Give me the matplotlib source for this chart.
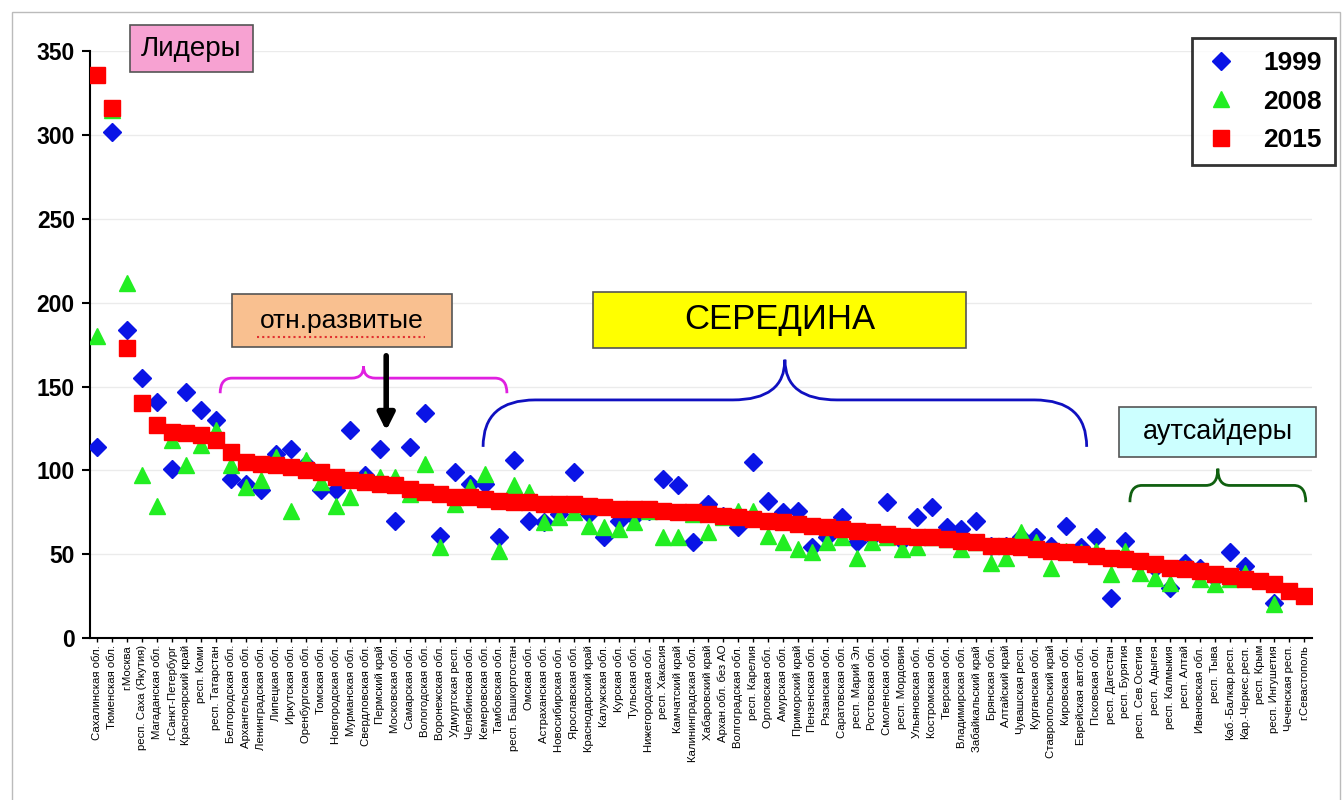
import numpy as np
import matplotlib
matplotlib.use('Agg')
import matplotlib.pyplot as plt
from matplotlib.path import Path
import matplotlib.patches as patches

plt.rcParams['font.family'] = ['Liberation Sans', 'DejaVu Sans']

regions = ['Сахалинская обл.', 'Тюменская обл.', 'г.Москва', 'респ. Саха (Якутия)', 'Магаданская обл.',
           'г.Санкт-Петербург', 'Красноярский край', 'респ. Коми', 'респ. Татарстан', 'Белгородская обл.',
           'Архангельская обл.', 'Ленинградская обл.', 'Липецкая обл.', 'Иркутская обл.', 'Оренбургская обл.',
           'Томская обл.', 'Новгородская обл.', 'Мурманская обл.', 'Свердловская обл.', 'Пермский край',
           'Московская обл.', 'Самарская обл.', 'Вологодская обл.', 'Воронежская обл.', 'Удмуртская респ.',
           'Челябинская обл.', 'Кемеровская обл.', 'Тамбовская обл.', 'респ. Башкортостан', 'Омская обл.',
           'Астраханская обл.', 'Новосибирская обл.', 'Ярославская обл.', 'Краснодарский край', 'Калужская обл.',
           'Курская обл.', 'Тульская обл.', 'Нижегородская обл.', 'респ. Хакасия', 'Камчатский край',
           'Калининградская обл.', 'Хабаровский край', 'Архан.обл. без АО', 'Волгоградская обл.', 'респ. Карелия',
           'Орловская обл.', 'Амурская обл.', 'Приморский край', 'Пензенская обл.', 'Рязанская обл.',
           'Саратовская обл.', 'респ. Марий Эл', 'Ростовская обл.', 'Смоленская обл.', 'респ. Мордовия',
           'Ульяновская обл.', 'Костромская обл.', 'Тверская обл.', 'Владимирская обл.', 'Забайкальский край',
           'Брянская обл.', 'Алтайский край', 'Чувашская респ.', 'Курганская обл.', 'Ставропольский край',
           'Кировская обл.', 'Еврейская авт.обл.', 'Псковская обл.', 'респ. Дагестан', 'респ. Бурятия',
           'респ. Сев.Осетия', 'респ. Адыгея', 'респ. Калмыкия', 'респ. Алтай', 'Ивановская обл.',
           'респ. Тыва', 'Каб.-Балкар.респ.', 'Кар.-Черкес.респ.', 'респ. Крым', 'респ. Ингушетия',
           'Чеченская респ.', 'г.Севастополь']

nan = np.nan
v1999 = [114, 302, 184, 155, 141, 101, 147, 136, 130, 95,
         92, 88, 110, 113, 104, 88, 88, 124, 97, 113,
         70, 114, 134, 61, 99, 92, 92, 60, 106, 70,
         69, 74, 99, 74, 60, 70, 72, 76, 95, 91,
         57, 80, 73, 66, 105, 82, 75, 76, 54, 60,
         72, 57, 60, 81, 58, 72, 78, 66, 65, 70,
         55, 55, 60, 60, 55, 67, 54, 60, 24, 58,
         45, 42, 30, 45, 42, 36, 51, 43, nan, 21,
         nan, nan]
v2008 = [180, 315, 212, 97, 79, 118, 103, 115, 124, 103,
         90, 94, 108, 76, 106, 93, 79, 84, 95, 96,
         96, 86, 104, 54, 80, 90, 98, 52, 91, 87,
         69, 72, 75, 67, 66, 65, 69, 76, 60, 60,
         74, 63, 72, 76, 76, 61, 57, 53, 51, 57,
         60, 48, 57, 60, 53, 54, 60, 59, 53, 57,
         45, 48, 63, 57, 42, 52, 51, 52, 38, 52,
         39, 36, 33, 42, 35, 32, 35, 39, nan, 20,
         nan, nan]
v2015 = [336, 316, 173, 140, 127, 123, 122, 121, 118, 111,
         105, 104, 103, 102, 100, 99, 96, 94, 93, 92,
         91, 89, 87, 86, 84, 84, 83, 82, 81, 81,
         80, 80, 80, 79, 78, 77, 77, 77, 76, 75,
         75, 74, 73, 72, 71, 70, 69, 68, 67, 66,
         65, 64, 63, 62, 61, 60, 60, 59, 58, 57,
         55, 55, 54, 53, 52, 51, 50, 49, 48, 47,
         46, 44, 42, 41, 40, 38, 37, 35, 34, 32,
         28, 25]

x = np.arange(len(regions))

fig = plt.figure(figsize=(13.44, 8), dpi=100)
ax = fig.add_axes([0.067, 0.2025, 0.909, 0.7335])

ax.plot(x, v1999, 'D', color='#0A14E6', markersize=9, linestyle='none', label='1999', zorder=3)
ax.plot(x, v2008, '^', color='#22EE22', markersize=11, linestyle='none', label='2008', zorder=4)
ax.plot(x, v2015, 's', color='#FF0000', markersize=11, linestyle='none', label='2015', zorder=5)

ax.set_xlim(-0.47, 81.5)
ax.set_ylim(0, 350)
ax.set_yticks(np.arange(0, 351, 50))
ax.yaxis.grid(True, color='#EBEBEB', linewidth=1)
ax.set_axisbelow(True)
for s in ['top', 'right']:
    ax.spines[s].set_visible(False)
ax.spines['left'].set_linewidth(1.5)
ax.spines['bottom'].set_linewidth(1.5)
ax.tick_params(axis='y', labelsize=16.5, length=6, width=1.5, pad=5)
for t in ax.get_yticklabels():
    t.set_fontweight('bold')
ax.set_xticks(x)
ax.set_xticklabels(regions, rotation=90, fontsize=8.2,
                   family=['Liberation Sans Narrow', 'Liberation Sans', 'DejaVu Sans'])
ax.tick_params(axis='x', length=3, width=1, pad=2)

leg = ax.legend(loc='upper right', bbox_to_anchor=(0.9933, 0.9525), bbox_transform=fig.transFigure,
                prop={'weight': 'bold', 'size': 19}, frameon=True, fancybox=False, borderaxespad=0,
                handlelength=1.2, handletextpad=1.0, labelspacing=0.55, borderpad=0.5)
leg.get_frame().set_edgecolor('black')
leg.get_frame().set_linewidth(2)

# boxes with titles (pixel positions of the original slide)
def box(x0, y0, x1, y1, text, color, size):
    fx, fy = x0 / 1344, 1 - y1 / 800
    w, h = (x1 - x0) / 1344, (y1 - y0) / 800
    fig.patches.append(patches.Rectangle((fx, fy), w, h, transform=fig.transFigure,
                                         facecolor=color, edgecolor='#555555', linewidth=1.2, zorder=10))
    fig.text(fx + w / 2, fy + h / 2, text, ha='center', va='center', fontsize=size, zorder=11)

box(130, 25, 253, 72, 'Лидеры', '#F7A2D2', 20)
box(232, 294, 452, 347, 'отн.развитые', '#F9C090', 19)
fig.lines.append(plt.Line2D([257 / 1344, 425 / 1344], [1 - 337 / 800] * 2, transform=fig.transFigure,
                            color='#E03030', linestyle=(0, (1, 1.5)), linewidth=1.5, zorder=12))
box(593, 292, 966, 348, 'СЕРЕДИНА', '#FFFF00', 25)
box(1119, 407, 1316, 457, 'аутсайдеры', '#CCFFFF', 19.5)

# curly braces in data coordinates
def brace(x0, x1, yb, ym, yt, r, color):
    xm = (x0 + x1) / 2
    verts = [(x0, yb), (x0, ym), (x0 + r, ym), (xm - r, ym), (xm, ym), (xm, yt),
             (xm, ym), (xm + r, ym), (x1 - r, ym), (x1, ym), (x1, yb)]
    codes = [Path.MOVETO, Path.CURVE3, Path.CURVE3, Path.LINETO, Path.CURVE3, Path.CURVE3,
             Path.CURVE3, Path.CURVE3, Path.LINETO, Path.CURVE3, Path.CURVE3]
    ax.add_patch(patches.PathPatch(Path(verts, codes), facecolor='none', edgecolor=color,
                                   linewidth=2, zorder=6, clip_on=False))

brace(8.26, 27.5, 146, 155, 162, 0.8, '#E020E0')
brace(25.9, 66.4, 114, 142, 166, 3.5, '#1010C0')
brace(69.3, 81.1, 81, 91, 101, 0.8, '#106010')

ax.annotate('', xy=(19.4, 122), xytext=(19.4, 170),
            arrowprops=dict(arrowstyle='-|>', color='black', lw=4, mutation_scale=25), zorder=7)

# slide frame
fig.patches.append(patches.Rectangle((0.009, -0.01), 0.988, 0.995, transform=fig.transFigure,
                                     facecolor='none', edgecolor='#BBBBBB', linewidth=1))

fig.savefig('out.png', dpi=100)
